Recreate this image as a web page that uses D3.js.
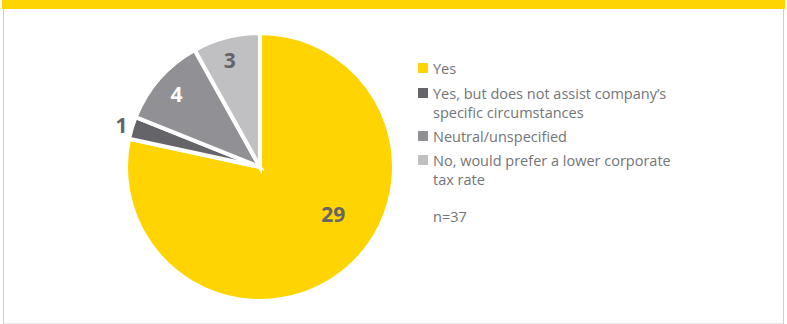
<!DOCTYPE html>
<html>
<head>
<meta charset="utf-8">
<script src="https://cdn.jsdelivr.net/npm/d3@7"></script>
<style>
  html, body { margin: 0; padding: 0; background: #fff; }
  svg { display: block; }
</style>
</head>
<body>
<svg id="chart" width="787" height="324"></svg>
<script>
// Survey responses
const categories = [
  "Yes",
  "Yes, but does not assist company’s specific circumstances",
  "Neutral/unspecified",
  "No, would prefer a lower corporate tax rate"
];
const legendLines = [
  ["Yes"],
  ["Yes, but does not assist company’s", "specific circumstances"],
  ["Neutral/unspecified"],
  ["No, would prefer a lower corporate", "tax rate"]
];
const values = [29, 1, 4, 3];
const colors = ["#FFD400", "#646469", "#919195", "#C0C0C3"];
const sampleNote = "n=37";

const svg = d3.select("#chart");
const W = 787, H = 324;

// Frame: yellow top band and thin grey border
svg.append("rect").attr("x", 3.5).attr("y", 4).attr("width", W - 7).attr("height", H - 4)
  .attr("fill", "#fff").attr("stroke", "#cfcfcf").attr("stroke-width", 1);
svg.append("rect").attr("x", 2).attr("y", 0).attr("width", W - 4).attr("height", 9)
  .attr("fill", "#FFD400");

// Pie
const cx = 260, cy = 167, r = 134;
const pie = d3.pie().sort(null).value(d => d)(values);
const arc = d3.arc().innerRadius(0).outerRadius(r);
const g = svg.append("g").attr("transform", `translate(${cx},${cy})`);

g.selectAll("path").data(pie).join("path")
  .attr("d", arc)
  .attr("fill", (d, i) => colors[i])
  .attr("stroke", "#fff")
  .attr("stroke-width", 4)
  .attr("stroke-linejoin", "miter");

// Value labels: radius (fraction of r) and angle shift (fraction of the slice span)
const labelRadius = [0.65, 1.08, 0.83, 0.83];
const labelShift = [-0.065, 0, 0, -0.04];
const labelColor = ["#646469", "#646469", "#ffffff", "#646469"];
g.selectAll("text.val").data(pie).join("text")
  .attr("class", "val")
  .attr("transform", (d, i) => {
    const span = d.endAngle - d.startAngle;
    const a = (d.startAngle + d.endAngle) / 2 + labelShift[i] * span * (i === 0 ? 1 : 1);
    const rr = r * labelRadius[i];
    return `translate(${rr * Math.sin(a)},${-rr * Math.cos(a)})`;
  })
  .attr("text-anchor", "middle")
  .attr("dominant-baseline", "central")
  .attr("font-family", "'Open Sans', sans-serif")
  .attr("font-weight", 700)
  .attr("font-size", 21)
  .attr("fill", (d, i) => labelColor[i])
  .text(d => d.data);

// Legend
const lg = svg.append("g").attr("transform", "translate(418,0)");
const rowY = [68, 93, 136, 160];
const lineH = 19;
const legendFont = 14.5;
legendLines.forEach((lines, i) => {
  lg.append("rect").attr("x", 0).attr("y", rowY[i] - 5).attr("width", 10).attr("height", 10)
    .attr("fill", colors[i]);
  lines.forEach((t, j) => {
    lg.append("text").attr("x", 15).attr("y", rowY[i] + j * lineH)
      .attr("dominant-baseline", "central")
      .attr("font-family", "'Open Sans', sans-serif")
      .attr("font-size", legendFont)
      .attr("fill", "#747478")
      .text(t);
  });
});
lg.append("text").attr("x", 15).attr("y", 216)
  .attr("dominant-baseline", "central")
  .attr("font-family", "'Open Sans', sans-serif")
  .attr("font-size", legendFont)
  .attr("fill", "#747478")
  .text(sampleNote);
</script>
</body>
</html>
